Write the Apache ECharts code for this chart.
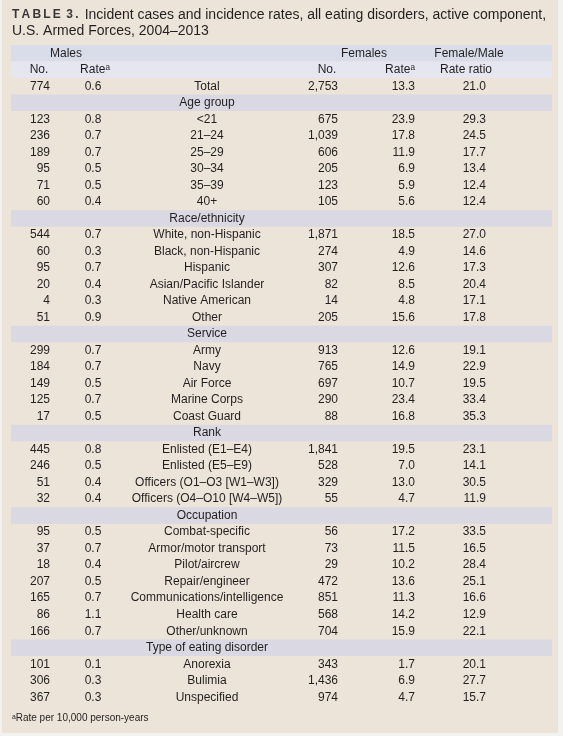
<!DOCTYPE html>
<html><head><meta charset="utf-8">
<script src="https://cdn.jsdelivr.net/npm/echarts@6/dist/echarts.min.js"></script>
<style>html,body{margin:0;padding:0;background:#f4f2ee;}#c{position:absolute;left:2px;top:0;width:556px;height:733px;}</style>
</head><body><div id="c"></div>
<script>
// ---- data ----
const tableTag = 'TABLE 3.';
const headerTop = ['Males', 'Females', 'Female/Male'];
const headerSub = ['No.', 'Rate\u1d43', 'No.', 'Rate\u1d43', 'Rate ratio'];
const rowLabels = ['Total',
  'Age group', '<21', '21\u201324', '25\u201329', '30\u201334', '35\u201339', '40+',
  'Race/ethnicity', 'White, non-Hispanic', 'Black, non-Hispanic', 'Hispanic', 'Asian/Pacific Islander', 'Native American', 'Other',
  'Service', 'Army', 'Navy', 'Air Force', 'Marine Corps', 'Coast Guard',
  'Rank', 'Enlisted (E1\u2013E4)', 'Enlisted (E5\u2013E9)', 'Officers (O1\u2013O3 [W1\u2013W3])', 'Officers (O4\u2013O10 [W4\u2013W5])',
  'Occupation', 'Combat-specific', 'Armor/motor transport', 'Pilot/aircrew', 'Repair/engineer', 'Communications/intelligence', 'Health care', 'Other/unknown',
  'Type of eating disorder', 'Anorexia', 'Bulimia', 'Unspecified'];
const sectionRows = ['Age group', 'Race/ethnicity', 'Service', 'Rank', 'Occupation', 'Type of eating disorder'];
const maleNo = [774,
  null, 123, 236, 189, 95, 71, 60,
  null, 544, 60, 95, 20, 4, 51,
  null, 299, 184, 149, 125, 17,
  null, 445, 246, 51, 32,
  null, 95, 37, 18, 207, 165, 86, 166,
  null, 101, 306, 367];
const maleRate = [0.6,
  null, 0.8, 0.7, 0.7, 0.5, 0.5, 0.4,
  null, 0.7, 0.3, 0.7, 0.4, 0.3, 0.9,
  null, 0.7, 0.7, 0.5, 0.7, 0.5,
  null, 0.8, 0.5, 0.4, 0.4,
  null, 0.5, 0.7, 0.4, 0.5, 0.7, 1.1, 0.7,
  null, 0.1, 0.3, 0.3];
const femaleNo = [2753,
  null, 675, 1039, 606, 205, 123, 105,
  null, 1871, 274, 307, 82, 14, 205,
  null, 913, 765, 697, 290, 88,
  null, 1841, 528, 329, 55,
  null, 56, 73, 29, 472, 851, 568, 704,
  null, 343, 1436, 974];
const femaleRate = [13.3,
  null, 23.9, 17.8, 11.9, 6.9, 5.9, 5.6,
  null, 18.5, 4.9, 12.6, 8.5, 4.8, 15.6,
  null, 12.6, 14.9, 10.7, 23.4, 16.8,
  null, 19.5, 7.0, 13.0, 4.7,
  null, 17.2, 11.5, 10.2, 13.6, 11.3, 14.2, 15.9,
  null, 1.7, 6.9, 4.7];
const rateRatio = [21.0,
  null, 29.3, 24.5, 17.7, 13.4, 12.4, 12.4,
  null, 27.0, 14.6, 17.3, 20.4, 17.1, 17.8,
  null, 19.1, 22.9, 19.5, 33.4, 35.3,
  null, 23.1, 14.1, 30.5, 11.9,
  null, 33.5, 16.5, 28.4, 25.1, 16.6, 12.9, 22.1,
  null, 20.1, 27.7, 15.7];
const titleText = 'Incident cases and incidence rates, all eating disorders, active component,';
const titleText2 = 'U.S. Armed Forces, 2004\u20132013';
const footnote = '\u1d43Rate per 10,000 person-years';

// ---- layout / style ----
const FONT = '"Liberation Sans", Arial, sans-serif';
const TXT = '#231f20';
const OFF = 2; // div offset
const cats = ['hdr1', 'hdr2'].concat(rowLabels);
const colX = { bandL: 11 - OFF, bandR: 552 - OFF, mNo: 50 - OFF, mRate: 93 - OFF, label: 207 - OFF, fNo: 338 - OFF, fRate: 415 - OFF, ratio: 486 - OFF };
const hdrTopX = [66 - OFF, 364 - OFF, 469 - OFF];
const hdrSubX = [39 - OFF, 95 - OFF, 327 - OFF, 400 - OFF, 466 - OFF];
const fmtInt = v => v.toLocaleString('en-US');
const fmt1 = v => v.toFixed(1);

function txt(x, y, s, align) {
  return { type: 'text', x: x, y: y, style: { text: s, fill: TXT, font: '12px ' + FONT,
    textAlign: align, align: align, textVerticalAlign: 'middle', verticalAlign: 'middle' } };
}

const bandData = [];
cats.forEach((c, i) => {
  if (i === 0) bandData.push([i, '#d9dde9']);
  else if (i === 1) bandData.push([i, '#e6e6f1']);
  else if (sectionRows.indexOf(c) >= 0) bandData.push([i, '#dad8e2']);
});

const tagRich = tableTag.split('').map(ch => ch === ' ' ? '{s| }' : '{b|' + ch + '}').join('');

const chart = echarts.init(document.getElementById('c'));
chart.setOption({
  backgroundColor: '#ece4d8',
  animation: false,
  title: {
    left: 10, top: 7, padding: 0,
    text: tagRich + '{n| ' + titleText + '}\n{n|' + titleText2 + '}',
    textStyle: {
      fontWeight: 'normal',
      rich: {
        b: { fontFamily: FONT, fontSize: 12, fontWeight: 'bold', color: '#3a3637', lineHeight: 16, padding: [0, 2.2, 0, 0] },
        s: { fontFamily: FONT, fontSize: 12, fontWeight: 'bold', color: '#3a3637', lineHeight: 16 },
        n: { fontFamily: FONT, fontSize: 14, fontWeight: 'normal', color: TXT, lineHeight: 16 }
      }
    }
  },
  graphic: [{ type: 'text', left: 10, top: 713, style: { text: footnote, font: '10px ' + FONT, fill: TXT } }],
  grid: { left: 0, right: 0, top: 45, height: 660.5 },
  xAxis: { type: 'value', min: 0, max: 556, show: false },
  yAxis: { type: 'category', data: cats, inverse: true, show: false },
  series: [
    {
      type: 'custom', data: bandData, silent: true,
      renderItem: function (params, api) {
        const p1 = api.coord([colX.bandL, api.value(0)]);
        const p2 = api.coord([colX.bandR, api.value(0)]);
        const h = api.size([0, 1])[1];
        return { type: 'rect', shape: { x: p1[0], y: p1[1] - h / 2, width: p2[0] - p1[0], height: h },
          style: { fill: bandData[params.dataIndex][1] } };
      }
    },
    {
      type: 'custom', data: [0, 1], silent: true,
      renderItem: function (params, api) {
        const r = params.dataIndex;
        const y = api.coord([0, r])[1];
        const items = r === 0 ? headerTop : headerSub;
        const xs = r === 0 ? hdrTopX : hdrSubX;
        return { type: 'group', children: items.map((s, k) => txt(api.coord([xs[k], r])[0], y, s, 'center')) };
      }
    },
    {
      type: 'custom', data: rowLabels.map((l, i) => i + 2), silent: true,
      renderItem: function (params, api) {
        const i = params.dataIndex;
        const r = i + 2;
        const y = api.coord([0, r])[1];
        const X = k => api.coord([colX[k], r])[0];
        const ch = [txt(X('label'), y, rowLabels[i], 'center')];
        if (maleNo[i] !== null) {
          ch.push(txt(X('mNo'), y, fmtInt(maleNo[i]), 'right'));
          ch.push(txt(X('mRate'), y, fmt1(maleRate[i]), 'center'));
          ch.push(txt(X('fNo'), y, fmtInt(femaleNo[i]), 'right'));
          ch.push(txt(X('fRate'), y, fmt1(femaleRate[i]), 'right'));
          ch.push(txt(X('ratio'), y, fmt1(rateRatio[i]), 'right'));
        }
        return { type: 'group', children: ch };
      }
    }
  ]
});
</script></body></html>
